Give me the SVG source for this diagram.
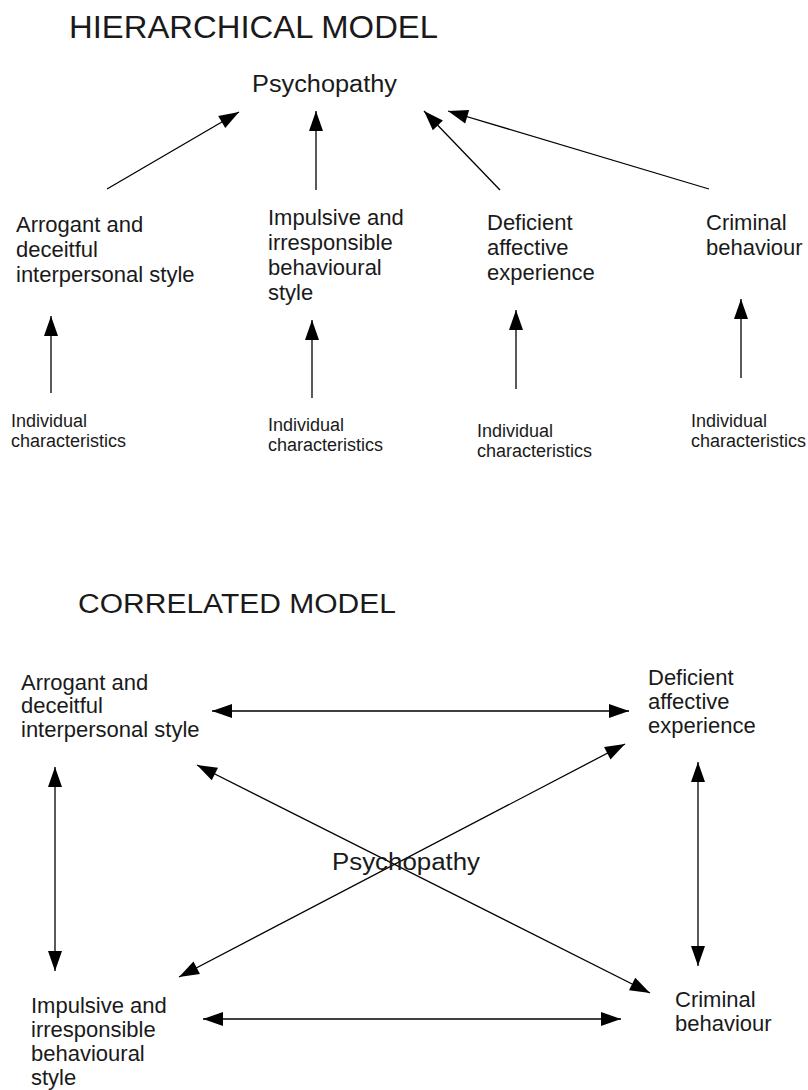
<svg xmlns="http://www.w3.org/2000/svg" width="808" height="1090" viewBox="0 0 808 1090">
  <style>
    text { font-family: "Liberation Sans", Arial, sans-serif; fill: #1a1a1a; }
    .title { font-size: 32px; }
    .title2 { font-size: 27px; }
    .psy { font-size: 23px; }
    .node { font-size: 22px; }
    .small { font-size: 18px; }
    .conn line { stroke: #000; stroke-width: 1.3; fill: none; }
    .one { marker-end: url(#ah); }
    .two { marker-start: url(#ah); marker-end: url(#ah); }
  </style>
  <defs>
    <marker id="ah" markerUnits="userSpaceOnUse" markerWidth="22" markerHeight="16" refX="21" refY="8" orient="auto-start-reverse" viewBox="0 0 22 16">
      <path d="M1,1 L21,8 L1,15 z" fill="#000"/>
    </marker>
  </defs>
  <rect width="808" height="1090" fill="#fff"/>

  <!-- Hierarchical model -->
  <g id="title-hierarchical">
    <text class="title" x="69" y="38" textLength="369" lengthAdjust="spacingAndGlyphs">HIERARCHICAL MODEL</text>
  </g>
  <g id="h-psychopathy">
    <text class="psy" x="252" y="92" textLength="145" lengthAdjust="spacingAndGlyphs">Psychopathy</text>
  </g>
  <g id="h-arrogant">
    <text class="node" x="16" y="232">Arrogant and</text>
    <text class="node" x="16" y="257">deceitful</text>
    <text class="node" x="16" y="282">interpersonal style</text>
  </g>
  <g id="h-impulsive">
    <text class="node" x="268" y="225">Impulsive and</text>
    <text class="node" x="268" y="250">irresponsible</text>
    <text class="node" x="268" y="275">behavioural</text>
    <text class="node" x="268" y="300">style</text>
  </g>
  <g id="h-deficient">
    <text class="node" x="487" y="230">Deficient</text>
    <text class="node" x="487" y="255">affective</text>
    <text class="node" x="487" y="280">experience</text>
  </g>
  <g id="h-criminal">
    <text class="node" x="706" y="230">Criminal</text>
    <text class="node" x="706" y="255">behaviour</text>
  </g>
  <g id="h-ind1">
    <text class="small" x="11" y="427">Individual</text>
    <text class="small" x="11" y="447">characteristics</text>
  </g>
  <g id="h-ind2">
    <text class="small" x="268" y="431">Individual</text>
    <text class="small" x="268" y="451">characteristics</text>
  </g>
  <g id="h-ind3">
    <text class="small" x="477" y="437">Individual</text>
    <text class="small" x="477" y="457">characteristics</text>
  </g>
  <g id="h-ind4">
    <text class="small" x="691" y="427">Individual</text>
    <text class="small" x="691" y="447">characteristics</text>
  </g>

  <!-- Correlated model -->
  <g id="title-correlated">
    <text class="title2" x="78" y="613" textLength="318" lengthAdjust="spacingAndGlyphs">CORRELATED MODEL</text>
  </g>
  <g id="c-arrogant">
    <text class="node" x="21" y="690">Arrogant and</text>
    <text class="node" x="21" y="713">deceitful</text>
    <text class="node" x="21" y="737">interpersonal style</text>
  </g>
  <g id="c-deficient">
    <text class="node" x="648" y="685">Deficient</text>
    <text class="node" x="648" y="709">affective</text>
    <text class="node" x="648" y="733">experience</text>
  </g>
  <g id="c-impulsive">
    <text class="node" x="31" y="1013">Impulsive and</text>
    <text class="node" x="31" y="1037">irresponsible</text>
    <text class="node" x="31" y="1061">behavioural</text>
    <text class="node" x="31" y="1085">style</text>
  </g>
  <g id="c-criminal">
    <text class="node" x="675" y="1007">Criminal</text>
    <text class="node" x="675" y="1031">behaviour</text>
  </g>

  <g id="connectors" class="conn">
    <!-- hierarchical: factors to psychopathy -->
    <line class="one" x1="107" y1="189" x2="239" y2="112"/>
    <line class="one" x1="316" y1="190" x2="316" y2="111"/>
    <line class="one" x1="500" y1="190" x2="424" y2="111"/>
    <line class="one" x1="709" y1="189" x2="448" y2="111"/>
    <!-- hierarchical: individual characteristics to factors -->
    <line class="one" x1="51" y1="393" x2="51" y2="316"/>
    <line class="one" x1="312" y1="398" x2="312" y2="320"/>
    <line class="one" x1="516" y1="389" x2="516" y2="310"/>
    <line class="one" x1="741" y1="378" x2="741" y2="299"/>
    <!-- correlated -->
    <line class="two" x1="212" y1="711" x2="629" y2="711"/>
    <line class="two" x1="203" y1="1019" x2="621" y2="1019"/>
    <line class="two" x1="55" y1="767" x2="55" y2="971"/>
    <line class="two" x1="698" y1="762" x2="698" y2="966"/>
    <line class="two" x1="197" y1="765" x2="650" y2="993"/>
    <line class="two" x1="179" y1="977" x2="625" y2="744"/>
  </g>

  <g id="c-psychopathy">
    <text class="psy" x="332" y="870" textLength="148" lengthAdjust="spacingAndGlyphs">Psychopathy</text>
  </g>
</svg>
